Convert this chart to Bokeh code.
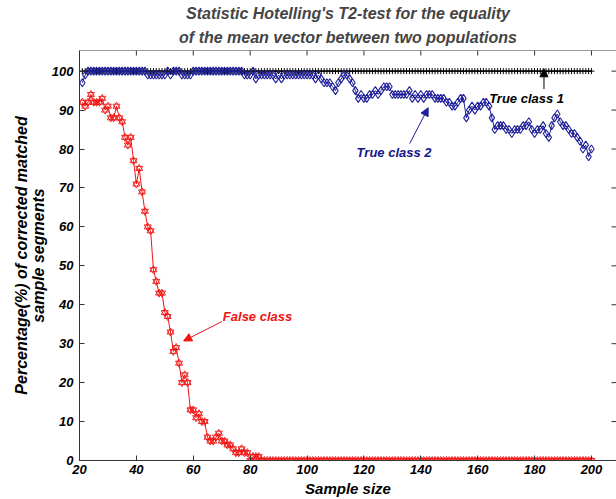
import math
from bokeh.plotting import figure
from bokeh.models import (Range1d, FixedTicker, Label, Arrow, NormalHead, Span, Title,
                          LinearAxis)
from bokeh.embed import file_html
from bokeh.resources import INLINE

# ---------------- data ----------------
sample_size = list(range(21, 201))

true_class_1 = [
    100, 100, 100, 100, 100, 100, 100, 100, 100, 100,
    100, 100, 100, 100, 100, 100, 100, 100, 100, 100,
    100, 100, 100, 100, 100, 100, 100, 100, 100, 100,
    100, 100, 100, 100, 100, 100, 100, 100, 100, 100,
    100, 100, 100, 100, 100, 100, 100, 100, 100, 100,
    100, 100, 100, 100, 100, 100, 100, 100, 100, 100,
    100, 100, 100, 100, 100, 100, 100, 100, 100, 100,
    100, 100, 100, 100, 100, 100, 100, 100, 100, 100,
    100, 100, 100, 100, 100, 100, 100, 100, 100, 100,
    100, 100, 100, 100, 100, 100, 100, 100, 100, 100,
    100, 100, 100, 100, 100, 100, 100, 100, 100, 100,
    100, 100, 100, 100, 100, 100, 100, 100, 100, 100,
    100, 100, 100, 100, 100, 100, 100, 100, 100, 100,
    100, 100, 100, 100, 100, 100, 100, 100, 100, 100,
    100, 100, 100, 100, 100, 100, 100, 100, 100, 100,
    100, 100, 100, 100, 100, 100, 100, 100, 100, 100,
    100, 100, 100, 100, 100, 100, 100, 100, 100, 100,
    100, 100, 100, 100, 100, 100, 100, 100, 100, 100,
]

true_class_2 = [
    97, 99, 100, 100, 100, 100, 100, 100, 100, 100,
    100, 100, 100, 100, 100, 100, 100, 100, 100, 100,
    100, 100, 100, 99, 99, 99, 99, 99, 99, 99,
    100, 99, 100, 100, 100, 99, 99, 99, 99, 100,
    100, 100, 100, 100, 100, 100, 100, 100, 100, 100,
    100, 100, 100, 100, 100, 100, 100, 99, 99, 99,
    100, 98, 99, 99, 99, 99, 99, 99, 98, 99,
    98, 99, 99, 99, 99, 99, 99, 99, 99, 99,
    99, 99, 98, 99, 98, 97, 97, 97, 96, 95,
    97, 98, 99, 99, 98, 97, 95, 93, 94, 93,
    93, 94, 94, 95, 94, 95, 96, 96, 96, 94,
    94, 94, 94, 94, 94, 95, 93, 94, 93, 94,
    93, 94, 94, 94, 93, 93, 93, 93, 92, 92,
    91, 91, 92, 93, 93, 88, 90, 91, 90, 91,
    91, 92, 92, 91, 88, 85, 86, 86, 86, 85,
    85, 84, 85, 85, 85, 86, 86, 87, 85, 84,
    85, 85, 86, 84, 83, 86, 88, 89, 87, 86,
    86, 85, 84, 84, 83, 82, 80, 81, 78, 80,
]

false_class = [
    92, 91, 92, 94, 92, 92, 92, 93, 90, 91,
    88, 88, 91, 88, 87, 83, 81, 83, 77, 71,
    75, 69, 64, 60, 59, 49, 46, 43, 43, 38,
    37, 33, 28, 29, 25, 20, 22, 20, 13, 13,
    11, 12, 10, 10, 6, 5, 5, 6, 7, 5,
    5, 4, 4, 3, 2, 2, 3, 2, 2, 0,
    1, 1, 1, 0, 0, 0, 0, 0, 0, 0,
    0, 0, 0, 0, 0, 0, 0, 0, 0, 0,
    0, 0, 0, 0, 0, 0, 0, 0, 0, 0,
    0, 0, 0, 0, 0, 0, 0, 0, 0, 0,
    0, 0, 0, 0, 0, 0, 0, 0, 0, 0,
    0, 0, 0, 0, 0, 0, 0, 0, 0, 0,
    0, 0, 0, 0, 0, 0, 0, 0, 0, 0,
    0, 0, 0, 0, 0, 0, 0, 0, 0, 0,
    0, 0, 0, 0, 0, 0, 0, 0, 0, 0,
    0, 0, 0, 0, 0, 0, 0, 0, 0, 0,
    0, 0, 0, 0, 0, 0, 0, 0, 0, 0,
    0, 0, 0, 0, 0, 0, 0, 0, 0, 0,
]

x_ticks = [20, 40, 60, 80, 100, 120, 140, 160, 180, 200]
y_ticks = [0, 10, 20, 30, 40, 50, 60, 70, 80, 90, 100]

title_lines = ["Statistic Hotelling's T2-test for the equality",
               "of the mean vector between two populations"]
x_label = "Sample size"
y_label_lines = ["Percentage(%) of corrected matched", "sample segments"]

# ---------------- style ----------------
FONT = "Liberation Sans"
BLUE = "#1f1f99"
BLUE_TXT = "#161688"
RED = "#f01515"
AXIS = "#333333"
X_END = 208.8
Y_END = 105.3

p = figure(width=616, height=499, output_backend="svg", toolbar_location=None,
           x_range=Range1d(20, X_END), y_range=Range1d(0, Y_END),
           min_border_left=79, min_border_right=0, min_border_top=50,
           min_border_bottom=5)
p.outline_line_color = None
p.xgrid.grid_line_color = None
p.ygrid.grid_line_color = None
p.background_fill_color = "white"
p.border_fill_color = "white"


def style_axis(ax):
    ax.major_tick_in = 5
    ax.major_tick_out = 0
    ax.minor_tick_line_color = None
    ax.major_tick_line_color = AXIS
    ax.axis_line_color = AXIS
    ax.major_label_text_font = FONT
    ax.major_label_text_font_style = "bold italic"
    ax.major_label_text_font_size = "13px"
    ax.major_label_text_color = "black"
    ax.axis_label_text_font = FONT
    ax.axis_label_text_font_style = "bold italic"
    ax.axis_label_text_color = "black"


xa = p.xaxis[0]
ya = p.yaxis[0]
style_axis(xa)
style_axis(ya)
xa.ticker = FixedTicker(ticks=x_ticks)
ya.ticker = FixedTicker(ticks=y_ticks)
xa.major_label_standoff = 4
ya.major_label_standoff = 6
xa.axis_label = x_label
xa.axis_label_text_font_size = "15px"
xa.axis_label_standoff = 3
ya.axis_label = y_label_lines[1]
ya.axis_label_text_font_size = "16px"
ya.axis_label_standoff = 2

# outer left axis: carries only the first line of the y label
ya2 = LinearAxis(ticker=FixedTicker(ticks=[]))
style_axis(ya2)
ya2.axis_line_color = None
ya2.major_label_standoff = 0
ya2.axis_label = y_label_lines[0]
ya2.axis_label_text_font_size = "16px"
ya2.axis_label_standoff = -3
p.add_layout(ya2, "left")

# top spine and inward ticks on top / right edges
p.add_layout(Span(location=Y_END, dimension="width", line_color=AXIS, line_width=1))
p.ray(x=x_ticks, y=Y_END, length=5, length_units="screen", angle=-math.pi / 2,
      line_color=AXIS, line_width=1)
p.ray(x=X_END, y=y_ticks, length=5, length_units="screen", angle=math.pi,
      line_color=AXIS, line_width=1)

# titles (second line added first so it sits closest to the frame)
p.add_layout(Title(text=title_lines[1], align="center", text_font=FONT,
                   text_font_style="bold italic", text_font_size="16px",
                   standoff=10), "above")
p.add_layout(Title(text=title_lines[0], align="center", text_font=FONT,
                   text_font_style="bold italic", text_font_size="16px",
                   standoff=0), "above")

# ---------------- series ----------------
p.line(sample_size, true_class_1, line_color="black", line_width=1)
p.scatter(sample_size, true_class_1, marker="cross", size=6,
          line_color="black", line_width=1)

p.line(sample_size, true_class_2, line_color=BLUE, line_width=1)
p.scatter(sample_size, true_class_2, marker="diamond", size=8,
          fill_color=None, line_color=BLUE, line_width=1.1)

p.line(sample_size, false_class, line_color=RED, line_width=1)
p.scatter(sample_size, false_class, marker="triangle", size=7,
          fill_color=None, line_color=RED, line_width=0.9)
p.scatter(sample_size, false_class, marker="inverted_triangle", size=7,
          fill_color=None, line_color=RED, line_width=0.9)

# ---------------- annotations ----------------
def txt(x, y, text, color, size="13px"):
    p.add_layout(Label(x=x, y=y, text=text,
                       text_font=FONT, text_font_style="bold italic",
                       text_font_size=size, text_color=color,
                       text_align="center", text_baseline="middle"))


txt(177.2, 93.1, "True class 1", "black")
txt(130.6, 79.1, "True class 2", BLUE_TXT)
txt(82.6, 37.0, "False class", RED)

p.add_layout(Arrow(end=NormalHead(size=8, fill_color="black", line_color="black"),
                   x_start=183.3, y_start=95.4, x_end=183.3, y_end=100.6,
                   line_color="black", line_width=1))
p.add_layout(Arrow(end=NormalHead(size=8, fill_color=BLUE, line_color=BLUE),
                   x_start=136.1, y_start=81.4, x_end=142.6, y_end=90.6,
                   line_color=BLUE, line_width=1))
p.add_layout(Arrow(end=NormalHead(size=8, fill_color=RED, line_color=RED),
                   x_start=70.1, y_start=35.7, x_end=56.6, y_end=30.7,
                   line_color=RED, line_width=1))

open("out.html", "w").write(file_html(p, INLINE))
